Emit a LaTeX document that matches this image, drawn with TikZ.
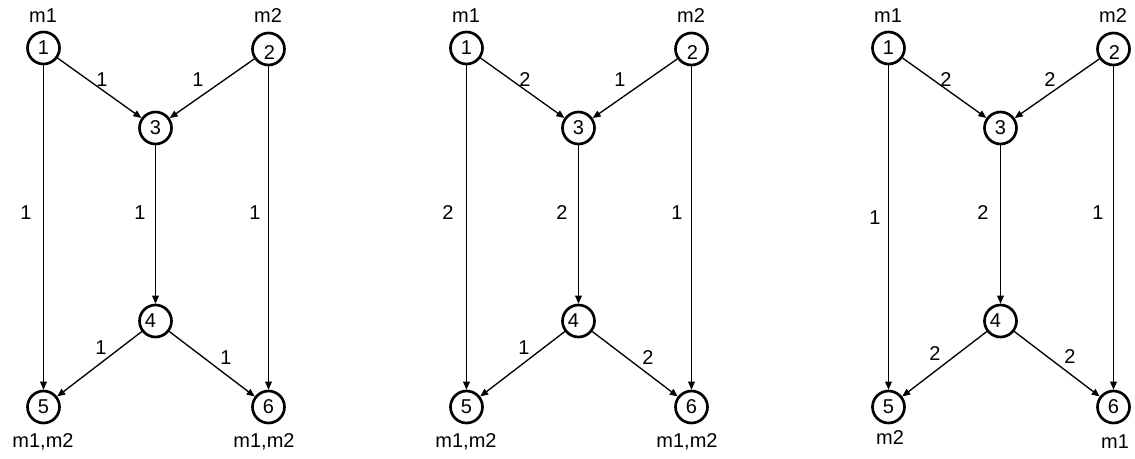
\documentclass[tikz,border=0pt]{standalone}
\usepackage{fontspec}
\setmainfont{Liberation Sans}
\usetikzlibrary{arrows.meta}

\tikzset{
  vertex/.style={circle, draw, line width=2pt, minimum size=24pt, inner sep=0pt},
  link/.style={line width=1pt, -{Triangle[length=6pt,width=5pt]}},
  txt/.style={font=\fontsize{15}{15}\selectfont, inner sep=0pt},
}

% One flow graph: #1 = name prefix, #2 = horizontal offset
\newcommand\flowpanel[2]{%
  \begin{scope}[shift={(#2,0)}]
    \node[vertex] (#1n1) at (43.5,48) {};
    \node[vertex] (#1n2) at (268.5,49) {};
    \node[vertex] (#1n3) at (155.5,128) {};
    \node[vertex] (#1n4) at (155.5,321) {};
    \node[vertex] (#1n5) at (43.5,407) {};
    \node[vertex] (#1n6) at (268.5,407) {};
    \node[txt] (#1t1) at (#1n1) {1};
    \node[txt] (#1t2) at ([shift={(1,4)}]#1n2.center) {2};
    \node[txt] (#1t3) at (#1n3) {3};
    \node[txt] (#1t4) at ([shift={(-5,0)}]#1n4.center) {4};
    \node[txt] (#1t5) at (#1n5) {5};
    \node[txt] (#1t6) at (#1n6) {6};
    \draw[link] (#1n1) -- (#1n3);
    \draw[link] (#1n2) -- (#1n3);
    \draw[link] (#1n1) -- (#1n5);
    \draw[link] (#1n3) -- (#1n4);
    \draw[link] (#1n2) -- (#1n6);
    \draw[link] (#1n4) -- (#1n5);
    \draw[link] (#1n4) -- (#1n6);
    \node[txt] (#1m1) at (43,16) {m1};
    \node[txt] (#1m2) at (268,16) {m2};
  \end{scope}%
}

\begin{document}
\begin{tikzpicture}[x=0.75pt, y=-0.75pt]
  \useasboundingbox (0,0) rectangle (1135,458);

  % first graph
  \flowpanel{a}{0}
  \begin{scope}[shift={(0,0)}]
    \node[txt] (aw13) at (102,80) {1};
    \node[txt] (aw23) at (198,80) {1};
    \node[txt] (aw15) at (26,213) {1};
    \node[txt] (aw34) at (140,213) {1};
    \node[txt] (aw26) at (255,213) {1};
    \node[txt] (aw45) at (101,348) {1};
    \node[txt] (aw46) at (226,358) {1};
    \node[txt] (ab5) at (43,442) {m1,m2};
    \node[txt] (ab6) at (264,442) {m1,m2};
  \end{scope}

  % second graph
  \flowpanel{b}{423}
  \begin{scope}[shift={(423,0)}]
    \node[txt] (bw13) at (102,80) {2};
    \node[txt] (bw23) at (197,80) {1};
    \node[txt] (bw15) at (25,213) {2};
    \node[txt] (bw34) at (139,213) {2};
    \node[txt] (bw26) at (254,213) {1};
    \node[txt] (bw45) at (101,348) {1};
    \node[txt] (bw46) at (225,358) {2};
    \node[txt] (bb5) at (43,442) {m1,m2};
    \node[txt] (bb6) at (264,442) {m1,m2};
  \end{scope}

  % third graph
  \flowpanel{c}{845}
  \begin{scope}[shift={(845,0)}]
    \node[txt] (cw13) at (101,80) {2};
    \node[txt] (cw23) at (205,80) {2};
    \node[txt] (cw15) at (30,218) {1};
    \node[txt] (cw34) at (138,213) {2};
    \node[txt] (cw26) at (253,213) {1};
    \node[txt] (cw45) at (90,354) {2};
    \node[txt] (cw46) at (225,357) {2};
    \node[txt] (cb5) at (45,438) {m2};
    \node[txt] (cb6) at (270,442) {m1};
  \end{scope}
\end{tikzpicture}
\end{document}
